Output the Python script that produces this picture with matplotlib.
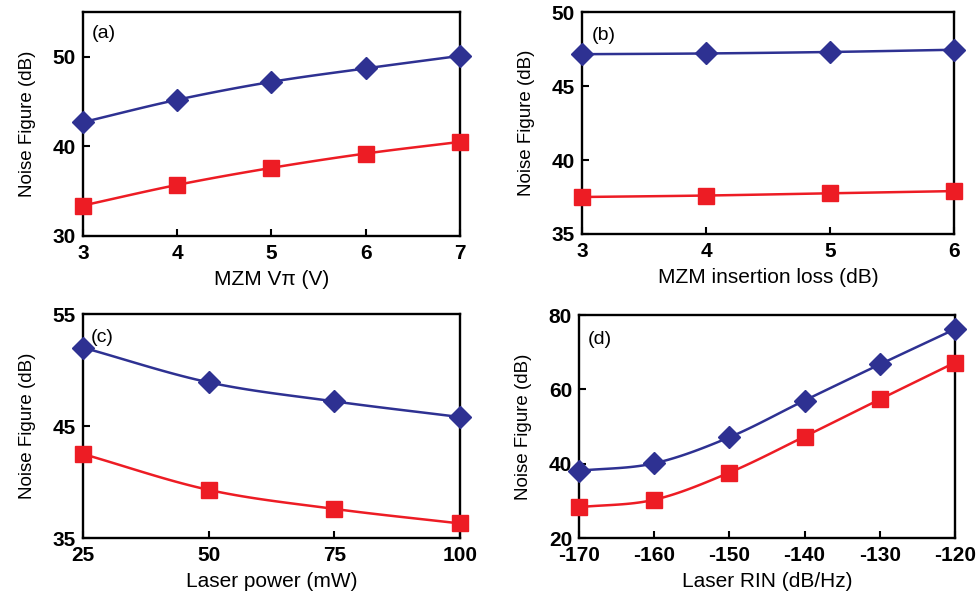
import numpy as np
import matplotlib.pyplot as plt

plt.rcParams['font.family'] = ['Liberation Sans', 'DejaVu Sans']
plt.rcParams['axes.unicode_minus'] = False

blue = '#2e3192'
red = '#ed1c24'

# (a) MZM Vpi
vpi = [3, 4, 5, 6, 7]
vpi_blue = [42.7, 45.2, 47.2, 48.7, 50.1]
vpi_red = [33.4, 35.7, 37.6, 39.2, 40.5]

# (b) MZM insertion loss
il = [3, 4, 5, 6]
il_blue = [47.15, 47.2, 47.3, 47.45]
il_red = [37.5, 37.6, 37.75, 37.9]

# (c) laser power
pw = [25, 50, 75, 100]
pw_blue = [52.0, 48.9, 47.2, 45.8]
pw_red = [42.5, 39.3, 37.6, 36.3]

# (d) laser RIN
rin = [-170, -160, -150, -140, -130, -120]
rin_blue = [38.1, 40.1, 47.1, 57.0, 66.7, 76.2]
rin_red = [28.3, 30.3, 37.6, 47.3, 57.3, 67.2]


def smooth(x, y, n=20):
    # catmull-rom curve through the points, like a smoothed excel line
    x = np.asarray(x, float)
    y = np.asarray(y, float)
    px = np.concatenate([[2*x[0]-x[1]], x, [2*x[-1]-x[-2]]])
    py = np.concatenate([[2*y[0]-y[1]], y, [2*y[-1]-y[-2]]])
    xs, ys = [], []
    t = np.linspace(0, 1, n)
    for i in range(1, len(px)-2):
        for p, out in ((px, xs), (py, ys)):
            p0, p1, p2, p3 = p[i-1], p[i], p[i+1], p[i+2]
            out.extend(0.5*((2*p1) + (-p0+p2)*t + (2*p0-5*p1+4*p2-p3)*t**2
                            + (-p0+3*p1-3*p2+p3)*t**3))
    return xs, ys


fig = plt.figure(figsize=(9.79, 5.98), dpi=100)
axa = fig.add_axes([0.0848, 0.6054, 0.385, 0.3746])
axb = fig.add_axes([0.5945, 0.6087, 0.380, 0.3712])
axc = fig.add_axes([0.0848, 0.1003, 0.385, 0.3746])
axd = fig.add_axes([0.5914, 0.1003, 0.384, 0.3729])

panels = [
    (axa, vpi, vpi_blue, vpi_red, (3, 7), (30, 55), [3, 4, 5, 6, 7], [30, 40, 50], 'MZM V\u03c0 (V)', '(a)', (0.024, 0.906)),
    (axb, il, il_blue, il_red, (3, 6), (35, 50), [3, 4, 5, 6], [35, 40, 45, 50], 'MZM insertion loss (dB)', '(b)', (0.027, 0.896)),
    (axc, pw, pw_blue, pw_red, (25, 100), (35, 55), [25, 50, 75, 100], [35, 45, 55], 'Laser power (mW)', '(c)', (0.02, 0.894)),
    (axd, rin, rin_blue, rin_red, (-170, -120), (20, 80), [-170, -160, -150, -140, -130, -120], [20, 40, 60, 80], 'Laser RIN (dB/Hz)', '(d)', (0.024, 0.89)),
]

for ax, x, yb, yr, xl, yl, xt, yt, xlab, tag, tpos in panels:
    sx, sy = smooth(x, yb)
    ax.plot(sx, sy, color=blue, lw=1.8, clip_on=False, zorder=3)
    ax.plot(x, yb, 'D', color=blue, ms=11, clip_on=False, zorder=4)
    sx, sy = smooth(x, yr)
    ax.plot(sx, sy, color=red, lw=1.8, clip_on=False, zorder=3)
    ax.plot(x, yr, 's', color=red, ms=11, clip_on=False, zorder=4)
    ax.set_xlim(xl)
    ax.set_ylim(yl)
    ax.set_xticks(xt)
    ax.set_yticks(yt)
    ax.tick_params(direction='in', length=5, width=1.5, labelsize=15)
    ax.tick_params(axis='x', pad=6)
    ax.tick_params(axis='y', pad=5)
    for lab in ax.get_xticklabels() + ax.get_yticklabels():
        lab.set_fontweight('bold')
    for s in ax.spines.values():
        s.set_linewidth(1.7)
    ax.set_xlabel(xlab, fontsize=15, labelpad=5)
    ax.set_ylabel('Noise Figure (dB)', fontsize=13.5, labelpad=12)
    ax.text(tpos[0], tpos[1], tag, transform=ax.transAxes, fontsize=14, va='center', ha='left')

fig.savefig('out.png', dpi=100)
